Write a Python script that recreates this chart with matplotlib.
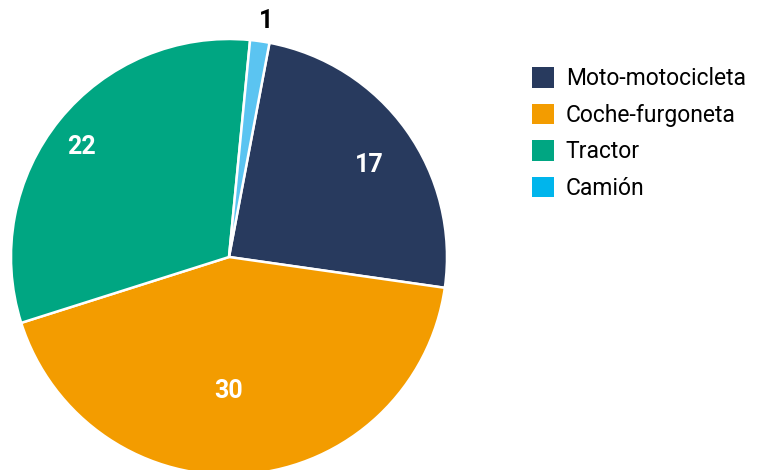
import numpy as np
import matplotlib
matplotlib.use("Agg")
from matplotlib import pyplot as plt
from matplotlib.patches import Patch

# data
categorias = ["Moto-motocicleta", "Coche-furgoneta", "Tractor", "Camión"]
valores = [17, 30, 22, 1]

# style
colores = ["#283a5e", "#f39c00", "#00a682", "#5bc4f1"]
colores_leyenda = ["#283a5e", "#f39c00", "#00a682", "#00b5ec"]
dist_etiqueta = [0.768, 0.615, 0.842, 1.096]
giro_etiqueta = [-2.3, -5.0, 2.2, -0.8]   # small angular nudge, degrees
color_etiqueta = ["white", "white", "white", "black"]

plt.rcParams['font.family'] = ['Roboto', 'DejaVu Sans']

fig = plt.figure(figsize=(7.57, 4.70), dpi=100)
ax = fig.add_axes([11 / 757, -5 / 470, 436 / 757, 436 / 470])

wedges, _ = ax.pie(valores, colors=colores, startangle=79.3, counterclock=False,
                   wedgeprops=dict(edgecolor="white", linewidth=1.8))

# value labels placed along the middle angle of each wedge
for w, v, d, g, c in zip(wedges, valores, dist_etiqueta, giro_etiqueta, color_etiqueta):
    ang = np.deg2rad((w.theta1 + w.theta2) / 2 + g)
    ax.text(d * np.cos(ang), d * np.sin(ang), str(v), ha="center", va="center",
            color=c, fontsize=18, fontweight="bold")

ax.set_xlim(-1, 1)
ax.set_ylim(-1, 1)
ax.set_aspect("equal")
ax.axis("off")

handles = [Patch(facecolor=col, edgecolor="none") for col in colores_leyenda]
fig.legend(handles, categorias, loc="upper left", bbox_to_anchor=(0.687, 0.881),
           frameon=False, fontsize=16.5, handlelength=1.0, handleheight=1.0,
           handletextpad=0.5, labelspacing=0.58, borderpad=0)

fig.savefig("out.png", dpi=100)
